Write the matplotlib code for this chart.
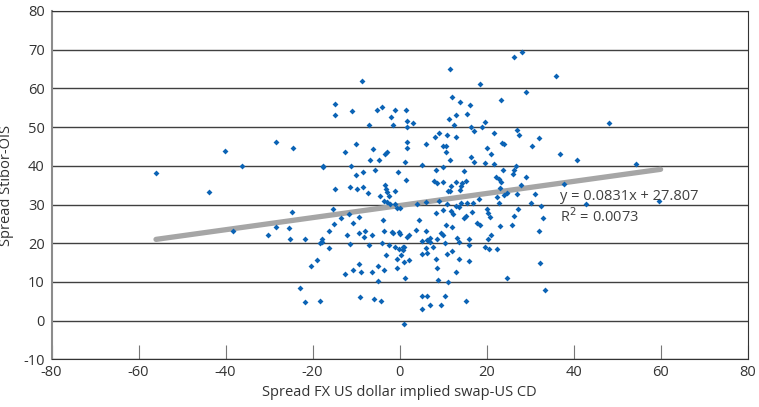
import matplotlib
matplotlib.use('Agg')
import matplotlib.pyplot as plt

plt.rcParams['font.family'] = ['Open Sans', 'DejaVu Sans']
plt.rcParams['axes.unicode_minus'] = False

# spread FX US dollar implied swap - US CD (x) vs spread Stibor-OIS (y)
fx_spread = [
    -55.9, -40.2, -28.5, -36.2, -43.8, -38.3, -30.2, -28.4,
    -8.7, -14.9, -14.9, -11.0, -5.2, -4.0, -1.1, 1.4, -2.0, -7.1, -1.5, 1.8, 3.0, 1.7,
    -24.5, -10.0, -6.2, 1.6, 1.6,
    28.2, 26.3, 11.6, 36.0, 18.5, 29.1, 12.0, 13.8, 23.4, 16.2, 13.0, 15.6, 11.3, 19.7,
    12.5, 16.3, 18.9, 17.2, 27.1, 21.6, 27.5, 9.0, 8.2, 11.0, 12.9, 32.0, 6.0, 23.6,
    23.9, 9.9, 10.7, 20.0, 30.5,
    -12.6, -3.3, -3.0, -17.7, -17.5, -11.2, -6.8, -4.8, 1.3, -8.4, -10.0, -5.7, -0.4,
    1.4, -11.4, -8.4, -9.7, -14.9, -7.2, -3.4, -3.1, -2.8, -1.1, -2.5, -4.6, -3.5, -3.0,
    -2.2, -1.0, -0.7, 0.2, 4.1, -24.7, -15.2, -11.6, -13.4, -9.4, -10.7, -15.0, -3.9,
    4.4, -25.4, -16.3, -12.1, -9.3, -7.9, -8.1, -6.4, -3.7, -1.8, -1.5, -0.2, 0.1, 1.7,
    2.1, 3.8, -25.1, -21.8, -17.9,
    -18.3, -17.8, -16.3, -11.4, -7.0, -4.1, -2.5, -1.0, -0.2, 0.7, 1.1, 0.8, -3.1, 0.3,
    -0.6, 2.1, 1.1, -18.9, -20.3, -9.4, -5.0, -10.7, -8.8, -12.6, -6.4, -3.7, -0.6, -4.9,
    1.2, -22.9, -21.7, -18.3, -9.1, -6.0, -4.2, 1.1,
    5.1, 6.2, 7.0, 10.4, 13.6, 16.0, 19.7, 20.5, 22.4, 7.6, 6.1, 6.2, 5.1, 12.1, 10.9,
    8.4, 13.6, 16.0, 32.3, 8.6, 12.9, 24.7, 8.9, 11.2, 33.5, 5.1, 6.3, 10.4, 15.2, 7.0,
    9.6, 5.1,
    10.6, 5.1, 11.6, 16.3, 17.1, 21.1, 19.7, 21.7, 10.0, 8.3, 14.9, 23.8, 26.7, 26.3,
    26.1, 29.0, 22.1, 22.8, 23.3, 8.0, 8.6, 10.0, 12.9, 15.2, 14.4, 14.0, 11.7, 28.0,
    23.1, 11.1, 11.6, 13.9, 24.0, 24.8, 26.9, 22.4, 31.2, 18.3, 9.0, 6.0, 10.8, 12.9,
    14.0, 15.4, 16.9, 13.7, 22.9, 30.3, 32.6, 10.0, 11.7, 12.2, 8.3, 16.7, 20.0, 20.4,
    27.2, 26.4, 15.2, 14.8, 20.7, 33.0, 17.7, 18.5, 10.6, 12.0, 23.1, 25.8, 9.5, 10.0,
    6.0, 32.0, 13.1, 21.1, 20.4, 16.0, 8.5, 7.0,
    48.1, 36.9, 40.8, 54.3, 37.9, 42.8, 59.6,
]
stibor_ois = [
    38.1, 43.9, 46.1, 40.0, 33.2, 23.2, 22.1, 24.3,
    62.0, 56.1, 53.1, 54.1, 54.5, 55.1, 54.5, 54.5, 52.6, 50.5, 50.5, 51.5, 51.0, 50.0,
    44.5, 45.6, 44.4, 46.1, 44.6,
    69.5, 68.1, 65.0, 63.1, 61.2, 59.0, 57.7, 56.6, 57.1, 55.6, 53.1, 53.5, 52.0, 51.4,
    50.5, 50.0, 50.0, 49.0, 49.3, 48.4, 48.0, 48.5, 47.5, 48.0, 47.5, 47.1, 45.7, 45.8,
    45.6, 45.0, 45.0, 44.6, 45.0,
    43.5, 43.1, 43.6, 39.6, 40.0, 40.0, 41.4, 41.4, 40.9, 38.5, 37.6, 38.9, 38.4,
    36.4, 34.6, 34.5, 34.0, 34.0, 32.9, 35.1, 34.0, 33.3, 33.4, 32.2, 32.2, 31.0, 30.6,
    30.2, 30.2, 29.0, 29.0, 30.2, 28.2, 28.9, 27.5, 26.5, 26.7, 25.3, 25.1, 26.0,
    26.0, 24.0, 23.1, 22.1, 22.6, 23.1, 21.7, 22.1, 23.1, 23.0, 22.6, 23.0, 22.4, 21.7,
    22.1, 23.4, 21.2, 21.2, 21.0,
    20.0, 20.4, 18.8, 19.8, 19.6, 20.0, 19.6, 19.0, 18.5, 19.0, 19.1, 18.3, 17.0, 17.0,
    15.9, 15.7, 15.2, 15.6, 14.1, 14.6, 14.1, 13.0, 12.5, 12.1, 12.5, 13.0, 13.5, 10.3,
    11.0, 8.5, 4.9, 5.0, 6.0, 5.5, 5.0, -0.9,
    20.6, 20.9, 20.4, 20.0, 20.4, 19.6, 19.1, 18.5, 18.5, 19.1, 18.9, 17.6, 17.1, 18.0, 17.1,
    16.0, 16.0, 15.5, 15.0, 13.5, 12.5, 11.0, 10.5, 10.0, 8.0, 6.5, 6.5, 6.5, 5.0, 4.0,
    4.0, 2.9,
    43.7, 40.1, 41.5, 42.2, 40.9, 43.0, 40.8, 40.5, 39.6, 38.9, 38.6, 38.9, 40.0, 38.9,
    37.9, 37.1, 37.2, 36.5, 35.9, 36.2, 35.6, 35.7, 35.9, 36.0, 35.5, 34.9, 34.7, 35.0,
    34.4, 33.6, 33.4, 33.8, 32.5, 32.9, 32.7, 32.0, 32.7, 31.5, 31.0, 30.6, 30.1, 29.7,
    30.3, 30.5, 30.5, 29.3, 30.5, 30.5, 29.5, 28.5, 28.4, 27.6, 27.8, 28.1, 28.8, 27.8,
    28.8, 27.1, 27.1, 26.4, 26.9, 26.4, 25.2, 24.7, 24.7, 24.1, 24.5, 24.7, 22.6, 22.1,
    23.1, 23.2, 21.4, 22.1, 21.2, 21.2, 21.2, 21.4,
    51.0, 43.0, 41.5, 40.4, 35.2, 30.1, 31.0,
]

# trend line as drawn on the chart
trend_x = [-56, 60]
trend_y = [21.0, 39.1]
eq_text = 'y = 0.0831x + 27.807'
r2_text = 'R$^2$ = 0.0073'

fig = plt.figure(figsize=(7.59, 4.07), dpi=100)
ax = fig.add_axes([0.068, 0.117, 0.917, 0.856])

ax.set_xlim(-80, 80)
ax.set_ylim(-10, 80)
ax.set_xticks(range(-80, 81, 20))
ax.set_yticks(range(-10, 81, 10))

ax.grid(axis='y', color='#404040', linewidth=1)
ax.set_axisbelow(True)

ax.plot(trend_x, trend_y, color='#a6a6a6', linewidth=3.8, solid_capstyle='round', zorder=2)
ax.scatter(fx_spread, stibor_ois, marker='D', s=9, color='#0b63b5', linewidths=0, zorder=3)

ax.text(36.9, 32.0, eq_text, fontsize=10.5, color='#404040', va='center', ha='left', zorder=4)
ax.text(36.9, 27.0, r2_text, fontsize=10.5, color='#404040', va='center', ha='left', zorder=4)

for side in ['top', 'right', 'bottom']:
    ax.spines[side].set_color('#333333')
ax.spines['left'].set_color('#8c8c8c')
ax.spines['left'].set_linewidth(1.5)

ax.tick_params(axis='x', direction='in', length=10, color='#777777', labelsize=10.5,
               labelcolor='#333333', pad=4)
ax.tick_params(axis='y', length=0, labelsize=10.5, labelcolor='#333333', pad=5)

ax.set_xlabel('Spread FX US dollar implied swap-US CD', fontsize=10.5, color='#333333', labelpad=4)
ax.set_ylabel('Spread Stibor-OIS', fontsize=10.5, color='#333333')
ax.yaxis.set_label_coords(-0.054, 0.5)

fig.savefig('out.png', dpi=100)
